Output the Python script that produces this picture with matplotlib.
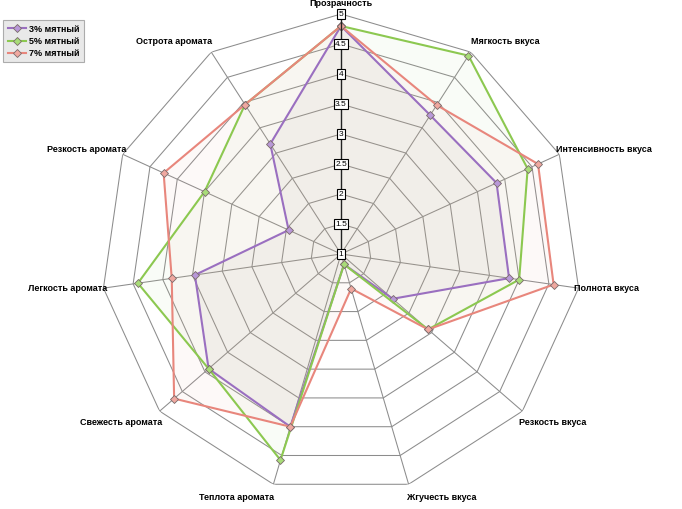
import numpy as np
import matplotlib
matplotlib.use("Agg")
import matplotlib.pyplot as plt
from matplotlib.lines import Line2D

categories = ["Прозрачность", "Мягкость вкуса", "Интенсивность вкуса", "Полнота вкуса",
              "Резкость вкуса", "Жгучесть вкуса", "Теплота аромата", "Свежесть аромата",
              "Легкость аромата", "Резкость аромата", "Острота аромата"]
s3 = [4.8, 3.75, 3.85, 3.83, 2.14, 1.18, 4.0, 3.92, 3.46, 1.96, 3.18]
s5 = [4.8, 4.93, 4.42, 4.0, 2.92, 1.18, 4.58, 3.92, 4.42, 3.5, 3.96]
s7 = [4.8, 3.95, 4.61, 4.58, 2.92, 1.6, 4.0, 4.68, 3.85, 4.25, 3.96]
series_names = ["3% мятный", "5% мятный", "7% мятный"]
ticks = [1, 1.5, 2, 2.5, 3, 3.5, 4, 4.5, 5]
tick_labels = ["1", "1.5", "2", "2.5", "3", "3.5", "4", "4.5", "5"]

line_colors = ["#9a6fc0", "#8cc850", "#e8867c"]
fill_colors = ["#9a8080", "#b8d890", "#f0b0a8"]
marker_face = ["#b898d8", "#a8dc78", "#f0a8a0"]

plt.rcParams['font.family'] = ['Liberation Sans', 'DejaVu Sans']

fig = plt.figure(figsize=(6.82, 5.09), dpi=100)
cx, cy, R = 341 / 682, 1 - 254 / 509, 240
ax = fig.add_axes([cx - R / 682, cy - R / 509, 2 * R / 682, 2 * R / 509], projection='polar')
ax.set_theta_zero_location('N')
ax.set_theta_direction(-1)
ax.set_ylim(1, 5)
ax.grid(False)
ax.set_xticks([])
ax.set_yticks([])
ax.spines['polar'].set_visible(False)
ax.patch.set_alpha(0)

n = len(categories)
theta = np.linspace(0, 2 * np.pi, n, endpoint=False)
theta_c = np.concatenate([theta, theta[:1]])

# polygon grid
for t in ticks[1:]:
    ax.plot(theta_c, [t] * (n + 1), color="#8c8c8c", lw=0.75, zorder=1)
for i, th in enumerate(theta):
    if i == 0:
        continue
    ax.plot([th, th], [1, 5], color="#8c8c8c", lw=0.75, zorder=1)

# series
data = [s3, s5, s7]
for vals, fc in zip(data, fill_colors):
    v = np.concatenate([vals, vals[:1]])
    ax.fill(theta_c, v, color=fc, alpha=0.07, zorder=2, lw=0)
for vals, lc, mf in zip(data, line_colors, marker_face):
    v = np.concatenate([vals, vals[:1]])
    ax.plot(theta_c, v, color=lc, lw=1.5, zorder=3,
            marker='D', markersize=4, markerfacecolor=mf, markeredgecolor="#7a6a6a",
            markeredgewidth=0.6)

# main radial axis
ax.plot([0, 0], [1, 5], color="#222222", lw=1.0, zorder=4)
for t, lab in zip(ticks, tick_labels):
    ax.text(0, t, lab, ha='center', va='center', fontsize=6, zorder=6,
            bbox=dict(boxstyle='square,pad=0.15', fc='white', ec='black', lw=0.8))

# category labels: (ha, dx px, dy px)
label_pos = [("center", 0, 10), ("left", 0, 11), ("left", -3, 5), ("left", -5, 0),
             ("left", -3, -11), ("left", -2, -13), ("right", 1, -13), ("right", 3, -11),
             ("right", 4, 0), ("right", 4, 5), ("right", 1, 11)]
for th, cat, (ha, dx, dy) in zip(theta, categories, label_pos):
    ax.annotate(cat, xy=(th, 5), xytext=(dx, dy), textcoords='offset pixels',
                ha=ha, va='center', fontsize=6.5, fontweight='bold', annotation_clip=False)

handles = [Line2D([0], [0], color=lc, lw=1.5, marker='D', markersize=4,
                  markerfacecolor=mf, markeredgecolor="#7a6a6a", markeredgewidth=0.6)
           for lc, mf in zip(line_colors, marker_face)]
leg = fig.legend(handles, series_names, loc='upper left',
                 bbox_to_anchor=(3 / 682, 1 - 20 / 509),
                 prop={'weight': 'bold', 'size': 6.5},
                 frameon=True, fancybox=False, handlelength=2.0, handletextpad=0.4,
                 borderpad=0.5, labelspacing=0.35, borderaxespad=0)
leg.get_frame().set_facecolor('#e4e4e4')
leg.get_frame().set_edgecolor('#9a9a9a')
leg.get_frame().set_linewidth(0.8)

fig.savefig("out.png", dpi=100)
